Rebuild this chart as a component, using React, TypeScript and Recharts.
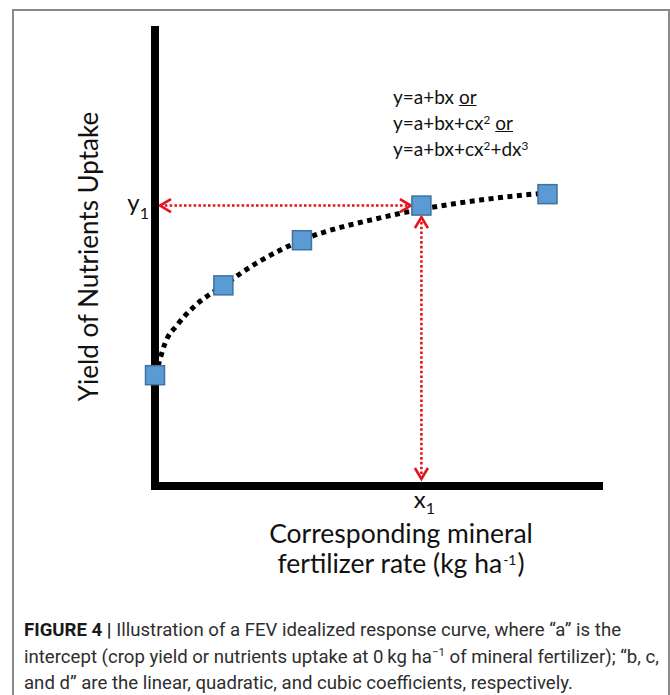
import { ComposedChart, Line, Scatter, XAxis, YAxis, ReferenceLine, Label } from 'recharts'

// measured points (blue squares) on the idealized response curve
const markerX = [0, 15.4, 33.1, 60.0, 88.4]
const markerY = [24.3, 44.0, 53.9, 61.5, 64.0]

// points
const curveX = [0.7, 2.3, 5.0, 9.0, 15.4, 23.6, 33.1, 50.7, 60.0, 73.2, 88.4]
const curveY = [26.3, 31.4, 35.3, 39.5, 44.0, 49.3, 53.9, 58.8, 60.7, 62.7, 64.3]

// x1 / y1 read-off point
const x1 = 60.0
const y1 = 61.5

const markers = markerX.map((x, i) => ({ x, y: markerY[i] }))
const curve = curveX.map((x, i) => ({ x, y: curveY[i] }))

const RED = '#e5141c'
const FONT = 'Lato, "Open Sans", sans-serif'

// red dotted line with open arrowheads at both ends
const arrowShape = (startInset: number, endInset: number) => (p: any) => {
  const { x1: ax0, y1: ay0, x2: bx0, y2: by0 } = p
  const len = Math.hypot(bx0 - ax0, by0 - ay0) || 1
  const ux = (bx0 - ax0) / len
  const uy = (by0 - ay0) / len
  const ax = ax0 + ux * startInset
  const ay = ay0 + uy * startInset
  const bx = bx0 - ux * endInset
  const by = by0 - uy * endInset
  const head = (tx: number, ty: number, dx: number, dy: number) => {
    const back = 11
    const side = 6.5
    const px = -dy
    const py = dx
    return `${tx - dx * back + px * side},${ty - dy * back + py * side} ${tx},${ty} ${tx - dx * back - px * side},${ty - dy * back - py * side}`
  }
  return (
    <g>
      <line x1={ax} y1={ay} x2={bx} y2={by} stroke={RED} strokeWidth={2.6} strokeDasharray="2.6 2.2" />
      <polyline points={head(ax, ay, -ux, -uy)} fill="none" stroke={RED} strokeWidth={2.6} />
      <polyline points={head(bx, by, ux, uy)} fill="none" stroke={RED} strokeWidth={2.6} />
    </g>
  )
}

const SquareMarker = (p: any) => (
  <rect x={p.cx - 9.5} y={p.cy - 9.5} width={19} height={19} fill="#5b9bd5" stroke="#41719c" strokeWidth={1.5} />
)

const XTick = (p: any) => (
  <text x={p.x + 3} y={p.y + 22} textAnchor="middle" fontFamily={FONT} fontSize={24} fill="#111">
    x<tspan fontSize={16} dy={6}>1</tspan>
  </text>
)

const YTick = (p: any) => (
  <text x={p.x - 6} y={p.y + 5} textAnchor="end" fontFamily={FONT} fontSize={24} fill="#111">
    y<tspan fontSize={16} dy={8}>1</tspan>
  </text>
)

const XTitle = ({ viewBox }: any) => {
  const cx = viewBox.x + 246
  return (
    <g fontFamily={FONT} fill="#111">
      <text x={cx} y={viewBox.y + 57} textAnchor="middle" fontSize={26.5}>Corresponding mineral</text>
      <text x={cx} y={viewBox.y + 87} textAnchor="middle" fontSize={26.5}>
        <tspan>fertilizer rate (kg ha</tspan>
        <tspan fontSize={14} dx={1} dy={-8}>-1</tspan>
        <tspan dx={1} dy={8}>)</tspan>
      </text>
    </g>
  )
}

const YTitle = ({ viewBox }: any) => {
  const x = viewBox.x + 3
  const y = viewBox.y + viewBox.height / 2 - 1.5
  return (
    <text x={x} y={y} transform={`rotate(-90 ${x} ${y})`} textAnchor="middle" fontFamily={FONT} fontSize={26} fill="#111">
      Yield of Nutrients Uptake
    </text>
  )
}

const supStyle = { fontSize: '0.62em', position: 'relative' as const, top: '-0.55em', lineHeight: 1 }

export default function App() {
  return (
    <div style={{ position: 'absolute', left: 0, top: 0, width: 670, height: 695, overflow: 'hidden', background: '#fff' }}>
      <div
        style={{
          position: 'absolute', left: 12, top: 9, width: 654, height: 720,
          borderLeft: '2px solid #8a8a8a', borderTop: '2px solid #8a8a8a', borderRight: '2px solid #8a8a8a',
        }}
      />

      <div style={{ position: 'absolute', left: 0, top: 0 }}>
        <ComposedChart width={670} height={600} margin={{ top: 30, right: 71, bottom: 14, left: 95 }}>
          <XAxis
            dataKey="x"
            type="number"
            domain={[0, 100]}
            ticks={[x1]}
            tick={XTick}
            tickLine={false}
            tickSize={0}
            tickMargin={0}
            height={100}
            axisLine={{ stroke: '#000', strokeWidth: 8, strokeLinecap: 'square' }}
          >
            <Label content={XTitle} />
          </XAxis>
          <YAxis
            dataKey="y"
            type="number"
            domain={[0, 100]}
            ticks={[y1]}
            tick={YTick}
            tickLine={false}
            tickSize={0}
            tickMargin={0}
            width={60}
            axisLine={{ stroke: '#000', strokeWidth: 8, strokeLinecap: 'square' }}
          >
            <Label content={YTitle} />
          </YAxis>
          <Line
            data={curve}
            dataKey="y"
            type="monotone"
            stroke="#000"
            strokeWidth={5}
            strokeDasharray="5 4.5"
            dot={false}
            activeDot={false}
            isAnimationActive={false}
          />
          <ReferenceLine segment={[{ x: 0, y: y1 }, { x: x1, y: y1 }]} shape={arrowShape(5, 10.5)} />
          <ReferenceLine segment={[{ x: x1, y: y1 }, { x: x1, y: 0 }]} shape={arrowShape(11.5, 7)} />
          <Scatter data={markers} dataKey="y" shape={SquareMarker} isAnimationActive={false} />
        </ComposedChart>
      </div>

      {/* candidate model equations */}
      <div style={{ position: 'absolute', left: 393, top: 83, fontFamily: FONT, fontSize: 19, lineHeight: '27px', color: '#111' }}>
        <div style={{ height: 26 }}>y=a+bx <span style={{ textDecoration: 'underline' }}>or</span></div>
        <div style={{ height: 26 }}>y=a+bx+cx<span style={supStyle}>2</span> <span style={{ textDecoration: 'underline' }}>or</span></div>
        <div style={{ height: 26 }}>y=a+bx+cx<span style={supStyle}>2</span>+dx<span style={supStyle}>3</span></div>
      </div>

      {/* figure caption */}
      <div style={{ position: 'absolute', left: 24, top: 617, fontFamily: 'Roboto, sans-serif', fontSize: 18.6, lineHeight: '26.5px', color: '#2e2e2e', whiteSpace: 'nowrap' }}>
        <div style={{ height: 26.5 }}><b style={{ color: '#1a1a1a' }}>FIGURE 4 |</b> Illustration of a FEV idealized response curve, where “a” is the</div>
        <div style={{ height: 26.5 }}>
          intercept (crop yield or nutrients uptake at 0{'\u2009'}kg ha<span style={supStyle}>−1</span> of mineral fertilizer); “b, c,
        </div>
        <div style={{ height: 26.5 }}>and d” are the linear, quadratic, and cubic coefficients, respectively.</div>
      </div>
    </div>
  )
}
